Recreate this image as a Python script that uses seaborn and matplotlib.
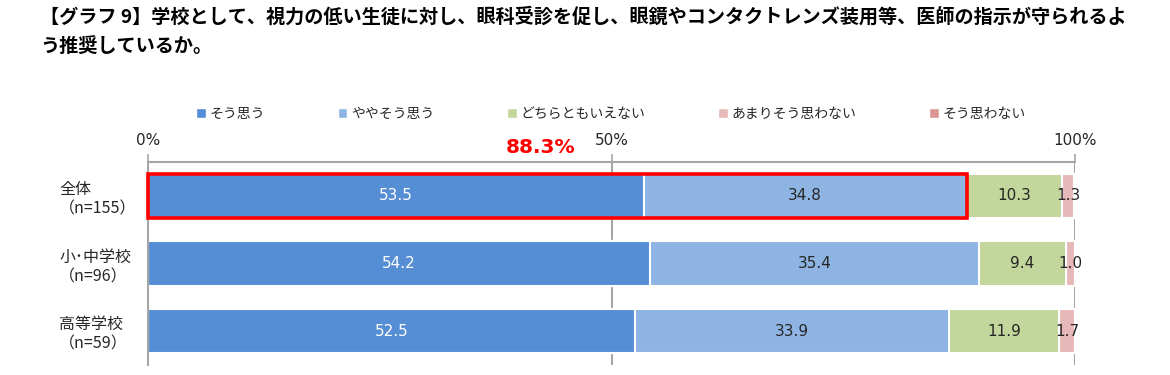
import matplotlib
matplotlib.use("Agg")
import matplotlib.pyplot as plt
import seaborn as sns
import numpy as np
import pandas as pd
from matplotlib.patches import Rectangle, Patch

sns.set_theme(style="white")
plt.rcParams['font.family'] = ['Noto Sans CJK JP', 'DejaVu Sans']

title = "【グラフ 9】学校として、視力の低い生徒に対し、眼科受診を促し、眼鏡やコンタクトレンズ装用等、医師の指示が守られるよ\nう推奨しているか。"
groups = ["全体\n（n=155）", "小･中学校\n（n=96）", "高等学校\n（n=59）"]
series = ["そう思う", "ややそう思う", "どちらともいえない", "あまりそう思わない", "そう思わない"]
v_strong = [53.5, 54.2, 52.5]
v_some = [34.8, 35.4, 33.9]
v_neutral = [10.3, 9.4, 11.9]
v_notmuch = [1.3, 1.0, 1.7]
v_not = [0.0, 0.0, 0.0]
highlight_label = "88.3%"
colors = ["#558ED5", "#8EB4E3", "#C3D69B", "#E6B9B8", "#D99694"]

vals = np.array([v_strong, v_some, v_neutral, v_notmuch, v_not])
cum = np.cumsum(vals, axis=0)

fig = plt.figure(figsize=(11.7, 3.75), dpi=100)
ax = fig.add_axes([148/1170, 1 - 365/375, (1075-148)/1170, (365-162)/375])

bar_h = 0.66
for i in range(len(series) - 1, -1, -1):
    df = pd.DataFrame({"group": groups, "value": cum[i]})
    sns.barplot(data=df, x="value", y="group", orient="h", color=colors[i],
                width=bar_h, edgecolor="white", linewidth=1.5, ax=ax,
                saturation=1)

# value labels
for i in range(len(series)):
    for j in range(len(groups)):
        v = vals[i, j]
        if v <= 0:
            continue
        xc = cum[i, j] - v / 2
        ax.text(xc, j, f"{v:.1f}", ha="center", va="center", fontsize=11,
                color="white" if i == 0 else "#262626",
                family=['DejaVu Sans'])

# highlight rectangle around first two segments of first bar
ax.add_patch(Rectangle((0, 0 - bar_h / 2), cum[1, 0], bar_h, fill=False,
                       edgecolor="#FF0000", linewidth=2.6, zorder=5, clip_on=False))
ax.text(42.3, -0.72, highlight_label, ha="center", va="center", color="#FF0000",
        fontsize=14.5, fontweight="bold", family=['DejaVu Sans'], clip_on=False)

ax.set_xlim(0, 100)
ax.set_ylim(2.5, -0.5)
ax.set_xlabel("")
ax.set_ylabel("")
ax.xaxis.tick_top()
ax.set_xticks([0, 50, 100])
ax.set_xticklabels(["0%", "50%", "100%"])
ax.tick_params(axis="x", which="both", direction="out", length=6, width=1.2,
               color="#a6a6a6", labelsize=11, pad=4, top=True, bottom=False,
               labelcolor="#262626")
for lab in ax.get_xticklabels():
    lab.set_family(['DejaVu Sans'])

ax.grid(False)
for xg in [50, 100]:
    ax.axvline(xg, color="#a6a6a6", linewidth=1.5, zorder=0)

for s in ["right", "bottom"]:
    ax.spines[s].set_visible(False)
for s in ["top", "left"]:
    ax.spines[s].set_visible(True)
    ax.spines[s].set_color("#a6a6a6")
    ax.spines[s].set_linewidth(1.5)

ax.tick_params(axis="y", length=0, pad=64, labelsize=11.5, labelcolor="#262626")
for lab in ax.get_yticklabels():
    lab.set_horizontalalignment("left")
    lab.set_multialignment("left")

handles = [Patch(facecolor=c, edgecolor="white", label=s) for c, s in zip(colors, series)]
fig.legend(handles=handles, loc="center", bbox_to_anchor=(611/1170, 1 - 114/375),
           ncol=5, frameon=False, fontsize=10, handlelength=0.7, handleheight=0.7,
           handletextpad=0.3, columnspacing=5.2, labelcolor="#262626")

fig.text(40/1170, 1 - 7/375, title, ha="left", va="top", fontsize=13.8,
         fontweight="bold", color="black", linespacing=1.7)

fig.savefig("out.png", dpi=100)
